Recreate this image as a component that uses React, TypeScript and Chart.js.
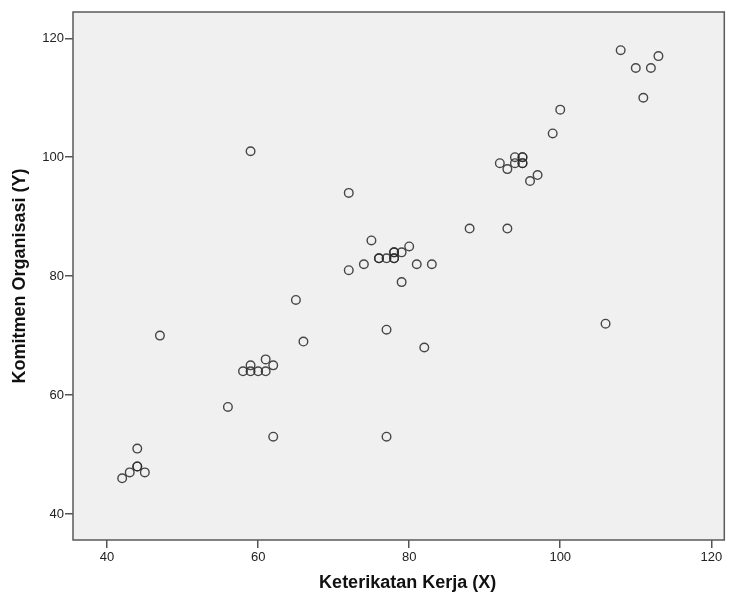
import React, { useEffect, useRef } from "react";
import { Chart, registerables } from "chart.js";

Chart.register(...registerables);

const xValues = [42, 43, 44, 44, 45, 44, 47, 56, 58, 59, 59, 60, 61, 61, 62, 59, 62, 65, 66, 72, 72, 74, 75, 76, 76, 77, 78, 78, 78, 78, 79, 80, 81, 83, 79, 77, 77, 82, 88, 93, 92, 93, 94, 94, 95, 95, 95, 95, 96, 97, 99, 100, 106, 108, 110, 111, 112, 113];
const yValues = [46, 47, 48, 48, 47, 51, 70, 58, 64, 64, 65, 64, 64, 66, 65, 101, 53, 76, 69, 94, 81, 82, 86, 83, 83, 83, 83, 83, 84, 84, 84, 85, 82, 82, 79, 71, 53, 68, 88, 88, 99, 98, 100, 99, 100, 100, 99, 99, 96, 97, 104, 108, 72, 118, 115, 110, 115, 117];
const xTicks = [40, 60, 80, 100, 120];
const yTicks = [40, 60, 80, 100, 120];
const xTitle = "Keterikatan Kerja (X)";
const yTitle = "Komitmen Organisasi (Y)";

const FONT = "'Liberation Sans', Arial, sans-serif";

const plotBg = {
  id: "plotBg",
  beforeDatasetsDraw(chart: any) {
    const { ctx, chartArea } = chart;
    ctx.save();
    ctx.fillStyle = "#f0f0f0";
    ctx.fillRect(chartArea.left, chartArea.top, chartArea.right - chartArea.left, chartArea.bottom - chartArea.top);
    ctx.restore();
  },
  afterDatasetsDraw(chart: any) {
    const { ctx, chartArea } = chart;
    ctx.save();
    ctx.strokeStyle = "#5a5a5a";
    ctx.lineWidth = 1.5;
    ctx.strokeRect(chartArea.left, chartArea.top, chartArea.right - chartArea.left, chartArea.bottom - chartArea.top);
    ctx.restore();
  },
  afterDraw(chart: any) {
    const { ctx, chartArea } = chart;
    ctx.save();
    ctx.fillStyle = "#111";
    ctx.font = `bold 18px ${FONT}`;
    ctx.textAlign = "center";
    ctx.textBaseline = "middle";
    ctx.fillText(xTitle, (chartArea.left + chartArea.right) / 2 + 9, 583);
    ctx.restore();
  },
};

export default function App() {
  const ref = useRef<HTMLCanvasElement>(null);
  useEffect(() => {
    document.body.style.margin = "0";
    const data = xValues.map((x, i) => ({ x, y: yValues[i] }));
    const tickFont = { family: FONT, size: 13 };
    const titleFont = { family: FONT, size: 18, weight: "bold" as const };
    const chart = new Chart(ref.current!, {
      type: "scatter",
      data: {
        datasets: [
          {
            data,
            pointRadius: 4.3,
            pointHoverRadius: 4.3,
            pointBorderWidth: 1.4,
            pointBorderColor: "rgba(40,40,40,0.85)",
            pointBackgroundColor: "rgba(0,0,0,0)",
          },
        ],
      },
      options: {
        animation: false,
        responsive: false,
        maintainAspectRatio: false,
        layout: { padding: { top: 12, right: 0, left: 0, bottom: 0 } },
        plugins: { legend: { display: false }, tooltip: { enabled: false } },
        scales: {
          x: {
            type: "linear",
            min: 35.49,
            max: 121.72,
            afterBuildTicks: (s: any) => {
              s.ticks = xTicks.map((v) => ({ value: v }));
            },
            afterFit: (s: any) => {
              s.height = 58;
            },
            grid: { display: true, drawOnChartArea: false, drawTicks: true, tickLength: 8, color: "#555", lineWidth: 1.5 },
            border: { display: false },
            ticks: { color: "#222", font: tickFont, padding: 2, maxRotation: 0 },
            title: { display: false, text: xTitle },
          },
          y: {
            type: "linear",
            min: 35.63,
            max: 124.42,
            afterBuildTicks: (s: any) => {
              s.ticks = yTicks.map((v) => ({ value: v }));
            },
            afterFit: (s: any) => {
              s.width = 73;
            },
            grid: { display: true, drawOnChartArea: false, drawTicks: true, tickLength: 8, color: "#555", lineWidth: 1.5 },
            border: { display: false },
            ticks: { color: "#222", font: tickFont, padding: 1 },
            title: { display: true, text: yTitle, color: "#111", font: titleFont, padding: { top: 9, bottom: 0 } },
          },
        },
      },
      plugins: [plotBg],
    });
    return () => chart.destroy();
  }, []);
  return (
    <div style={{ position: "absolute", left: 0, top: 0, width: 730, height: 598, background: "#fff", overflow: "hidden" }}>
      <canvas ref={ref} width={730} height={598} style={{ width: 730, height: 598, display: "block" }} />
    </div>
  );
}
